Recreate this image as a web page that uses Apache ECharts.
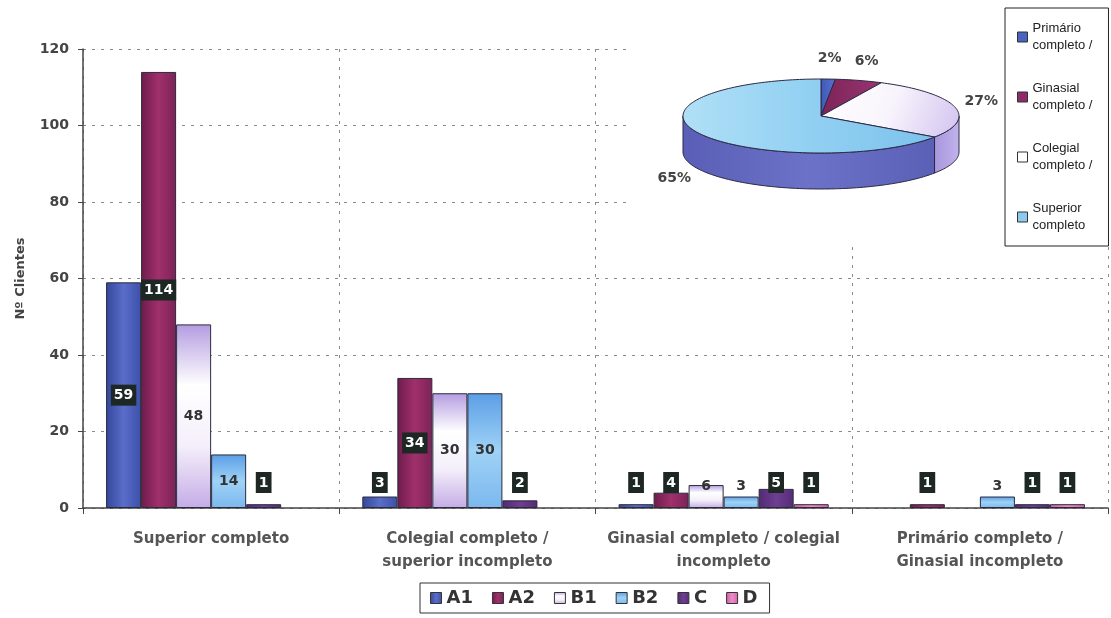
<!DOCTYPE html>
<html>
<head>
<meta charset="utf-8">
<script src="https://cdn.jsdelivr.net/npm/echarts@6.0.0/dist/echarts.min.js"></script>
<style>
  html, body { margin: 0; padding: 0; background: #fff; }
  #chart { width: 1111px; height: 618px; }
</style>
</head>
<body>
<div id="chart"></div>
<script>
// Education level of clients, split by client class
const categories = [
  'Superior completo',
  'Colegial completo /\nsuperior incompleto',
  'Ginasial completo / colegial\nincompleto',
  'Primário completo /\nGinasial incompleto'
];
const seriesNames = ['A1', 'A2', 'B1', 'B2', 'C', 'D'];
const valuesA1 = [59, 3, 1, 0];
const valuesA2 = [114, 34, 4, 1];
const valuesB1 = [48, 30, 6, 0];
const valuesB2 = [14, 30, 3, 3];
const valuesC  = [1, 2, 5, 1];
const valuesD  = [0, 0, 1, 1];
const yMin = 0, yMax = 120, yInterval = 20;
const yAxisTitle = 'Nº Clientes';

const BOLD = '"DejaVu Sans", "Liberation Sans", Arial, sans-serif';
const NARROW = '"Liberation Sans Narrow", "Liberation Sans", Arial, sans-serif';

function lin(x2, y2, stops) {
  return { type: 'linear', x: 0, y: 0, x2: x2, y2: y2,
    colorStops: stops.map((c, i) => ({ offset: i / (stops.length - 1), color: c })) };
}

const barFill = {
  A1: lin(1, 0, ['#34479c', '#5a6dc8', '#3c50aa']),
  A2: lin(1, 0, ['#6e1c4c', '#a0306c', '#7c2258']),
  B1: lin(0, 1, ['#b49ce0', '#ffffff', '#f4eefa', '#c4ace6']),
  B2: lin(0, 1, ['#5c9ee6', '#9ed2f6', '#7cb8ee']),
  C:  lin(1, 0, ['#512a74', '#6e3e92', '#552c78']),
  D:  lin(1, 0, ['#d55ca8', '#ee8cc8', '#d860aa'])
};
const boxedLabel = { A1: true, A2: true, B1: false, B2: false, C: true, D: true };
const seriesValues = { A1: valuesA1, A2: valuesA2, B1: valuesB1, B2: valuesB2, C: valuesC, D: valuesD };

const barSeries = seriesNames.map(name => {
  const boxed = boxedLabel[name];
  return {
    name: name,
    type: 'bar',
    barGap: 0,
    barCategoryGap: '18%',
    itemStyle: { color: barFill[name], borderColor: '#2b2b3c', borderWidth: 1 },
    label: {
      show: true,
      fontFamily: BOLD,
      fontWeight: 'bold',
      fontSize: 14,
      color: boxed ? '#ffffff' : '#333333',
      backgroundColor: boxed ? '#1d2724' : 'transparent',
      padding: boxed ? [4, 3, 3, 3] : 0
    },
    data: seriesValues[name].map(v => v
      ? { value: v, label: v >= 10 ? { position: 'inside' } : { position: 'insideBottom', distance: 15 } }
      : null)
  };
});

// Pie: total clients per education level (drawn as a tilted 3D pie)
const pieNames = categories.map(c => c.replace('\n', ' ')).reverse();
const pieValues = [valuesA1, valuesA2, valuesB1, valuesB2, valuesC, valuesD]
  .reduce((acc, arr) => acc.map((s, i) => s + arr[i]), [0, 0, 0, 0]).reverse();
const pieTotal = pieValues.reduce((a, b) => a + b, 0);

const pieCx = 821, pieCy = 116, pieRx = 138, pieRy = 37, pieDepth = 36;
const pieTop = [
  lin(1, 0, ['#3f58b8', '#5a72cc']),
  lin(1, 0, ['#7c2458', '#9a3472']),
  lin(1, 1, ['#ffffff', '#f8f4fc', '#d2c2f0']),
  lin(1, 0, ['#b0e0f6', '#92d0f2', '#7cc2ec'])
];
const pieSide = [
  '#34489e',
  '#6a1e4c',
  lin(1, 0, ['#a896dc', '#c2b2ec']),
  lin(1, 0, ['#5a5eb6', '#6c72c8', '#5a60b6'])
];
const pieLegendColor = ['#4a62c0', '#8e2c68', '#ffffff', '#8ccaf0'];

function ellPt(a, dy) {
  return [pieCx + pieRx * Math.sin(a), pieCy - pieRy * Math.cos(a) + dy];
}
function arcPts(a0, a1, dy) {
  const n = Math.max(2, Math.ceil(Math.abs(a1 - a0) / (Math.PI / 120)));
  const pts = [];
  for (let i = 0; i <= n; i++) pts.push(ellPt(a0 + (a1 - a0) * i / n, dy));
  return pts;
}

const pieSeries = pieNames.map((name, idx) => {
  const before = pieValues.slice(0, idx).reduce((a, b) => a + b, 0);
  return {
    name: name,
    type: 'custom',
    coordinateSystem: 'none',
    z: 10,
    silent: true,
    itemStyle: { color: pieLegendColor[idx], borderColor: '#333' },
    data: [pieValues[idx]],
    renderItem: function (params, api) {
      const v = api.value(0);
      const a0 = before / pieTotal * Math.PI * 2;
      const a1 = (before + v) / pieTotal * Math.PI * 2;
      const children = [];
      const s0 = Math.max(a0, Math.PI / 2), s1 = Math.min(a1, Math.PI * 1.5);
      if (s1 > s0) {
        children.push({
          type: 'polygon',
          shape: { points: arcPts(s0, s1, 0).concat(arcPts(s1, s0, pieDepth)) },
          style: { fill: pieSide[idx], stroke: '#2a2a44', lineWidth: 1 }
        });
      }
      children.push({
        type: 'polygon',
        shape: { points: [[pieCx, pieCy]].concat(arcPts(a0, a1, 0)) },
        style: { fill: pieTop[idx], stroke: '#2a2a44', lineWidth: 1 }
      });
      const mid = (a0 + a1) / 2;
      const front = Math.cos(mid) < 0;
      children.push({
        type: 'text',
        x: pieCx + pieRx * 1.2 * Math.sin(mid),
        y: pieCy - pieRy * 1.55 * Math.cos(mid) + (front ? pieDepth : 0),
        style: {
          text: Math.round(v / pieTotal * 100) + '%',
          fill: '#444',
          fontFamily: BOLD,
          fontWeight: 'bold',
          fontSize: 14,
          align: 'center',
          verticalAlign: 'middle'
        }
      });
      return { type: 'group', children: children };
    }
  };
});

const chart = echarts.init(document.getElementById('chart'), null, { renderer: 'canvas' });
chart.setOption({
  animation: false,
  backgroundColor: '#ffffff',
  grid: { left: 83, right: 3, top: 49, bottom: 110 },
  graphic: {
    elements: [{
      type: 'rect',
      z: 1,
      shape: { x: 628, y: 0, width: 483, height: 246 },
      style: { fill: '#ffffff' }
    }]
  },
  legend: [{
    data: seriesNames,
    left: 420,
    top: 583,
    orient: 'horizontal',
    borderColor: '#333',
    borderWidth: 1,
    padding: [6, 12, 6, 10],
    itemGap: 19,
    itemWidth: 11,
    itemHeight: 11,
    icon: 'rect',
    itemStyle: { borderColor: '#333', borderWidth: 1 },
    textStyle: { fontFamily: BOLD, fontWeight: 'bold', fontSize: 18, color: '#333' }
  }, {
    data: pieNames,
    orient: 'vertical',
    left: 1005,
    top: 8,
    borderColor: '#222',
    borderWidth: 1,
    padding: [12, 16, 12, 12],
    itemGap: 26,
    itemWidth: 10,
    itemHeight: 10,
    icon: 'rect',
    itemStyle: { borderColor: '#333', borderWidth: 1 },
    formatter: function (name) {
      const w = name.split(' ');
      return w[0] + '\n' + w[1] + (w[2] === '/' ? ' /' : '');
    },
    textStyle: { fontFamily: NARROW, fontSize: 13, color: '#222', lineHeight: 17 }
  }],
  xAxis: {
    type: 'category',
    data: categories,
    axisLine: { lineStyle: { color: '#444', width: 1.5 } },
    axisTick: { show: true, length: 6, lineStyle: { color: '#444' } },
    splitLine: { show: true, lineStyle: { color: '#8a8a8a', type: [3, 6] } },
    axisLabel: {
      interval: 0,
      margin: 20,
      fontFamily: BOLD,
      fontWeight: 'bold',
      fontSize: 15,
      lineHeight: 23,
      color: '#555'
    }
  },
  yAxis: {
    type: 'value',
    min: yMin,
    max: yMax,
    interval: yInterval,
    name: yAxisTitle,
    nameLocation: 'middle',
    nameRotate: 90,
    nameGap: 56,
    nameTextStyle: { fontFamily: BOLD, fontWeight: 'bold', fontSize: 13, color: '#444' },
    axisLine: { show: true, lineStyle: { color: '#444', width: 1.5 } },
    axisTick: { show: true, length: 5, lineStyle: { color: '#444' } },
    splitLine: { show: true, lineStyle: { color: '#8a8a8a', type: [3, 6] } },
    axisLabel: { margin: 14, fontFamily: BOLD, fontWeight: 'bold', fontSize: 14, color: '#444' }
  },
  series: barSeries.concat(pieSeries)
});
</script>
</body>
</html>
